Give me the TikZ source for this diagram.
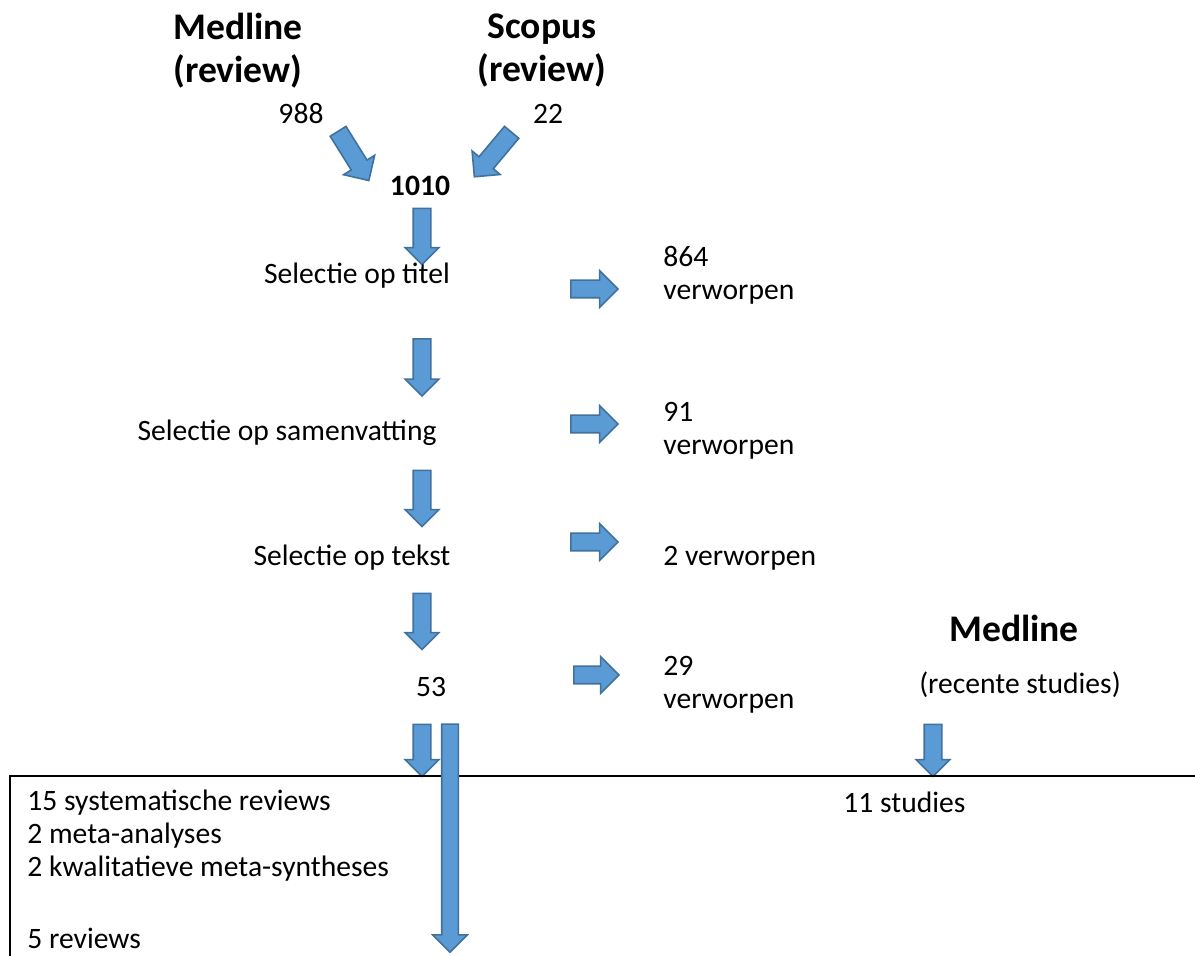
\documentclass[tikz,border=0pt]{standalone}
\usepackage{fontspec}
\setmainfont{Carlito}
\usepackage{tikz}
\usetikzlibrary{shapes.arrows, positioning}
\definecolor{pijlblauw}{HTML}{5B9BD5}
\definecolor{pijlrand}{HTML}{41719C}
\tikzset{
  pijl/.style={single arrow, fill=pijlblauw, draw=pijlrand, line width=0.8pt,
    inner xsep=0pt, inner ysep=4pt, single arrow head extend=4pt,
    single arrow head indent=0pt},
  zijpijl/.style={pijl, single arrow head extend=4.75pt, minimum height=23.5pt},
  tekst/.style={inner sep=0pt, font=\fontsize{14.8}{16.5}\selectfont},
  kop/.style={inner sep=0pt, align=center, font=\fontsize{18.8}{21.5}\selectfont\bfseries},
}

\begin{document}
\begin{tikzpicture}[x=0.5pt, y=-0.5pt]
  \useasboundingbox (0,0) rectangle (1195,956);
  % bronnen
  \node[kop] (medline) at (238,51) {Medline\\(review)};
  \node[kop] (scopus) at (542,51) {Scopus\\(review)};
  \node[tekst] (n988) at (301,114) {988};
  \node[tekst] (n22) at (548,114) {22};
  \node[pijl, minimum height=29pt, inner ysep=4.25pt, single arrow head extend=4.5pt, rotate=-58] (p1) at (351,152) {};
  \node[pijl, minimum height=29pt, inner ysep=4.25pt, single arrow head extend=4.5pt, rotate=-130] (p2) at (496,151) {};
  \node[tekst, font=\fontsize{14.8}{16.5}\selectfont\bfseries] (totaal) at (420,186) {1010};

  % selectiestappen
  \node[pijl, minimum height=28pt, rotate=-90] (v1) at (422,232) {};
  \node[tekst] (titel) at (357,276) {Selectie op titel};
  \node[zijpijl] (h1) at (590,289) {};
  \node[tekst, anchor=west, align=left] (weg1) at (663,275) {864\\verworpen};

  \node[pijl, minimum height=28.5pt, rotate=-90] (v2) at (422,363) {};
  \node[tekst] (samenv) at (287,433) {Selectie op samenvatting};
  \node[zijpijl] (h2) at (590,424) {};
  \node[tekst, anchor=west, align=left] (weg2) at (663,431) {91\\verworpen};

  \node[pijl, minimum height=28pt, rotate=-90] (v3) at (422,494) {};
  \node[tekst] (tekststap) at (352,558) {Selectie op tekst};
  \node[zijpijl] (h3) at (590,542) {};
  \node[tekst, anchor=west] (weg3) at (663,558) {2 verworpen};

  \node[pijl, minimum height=28pt, rotate=-90] (v4) at (422,617) {};
  \node[tekst] (n53) at (431,687) {53};
  \node[zijpijl, minimum height=22.5pt] (h4) at (592,675) {};
  \node[tekst, anchor=west, align=left] (weg4) at (663,685) {29\\verworpen};

  % recente studies
  \node[kop] (medline2) at (1014,628) {Medline};
  \node[tekst] (recent) at (1020,685) {(recente studies)};
  \node[pijl, minimum height=26pt, rotate=-90] (v5) at (933,746) {};
  \node[pijl, minimum height=26pt, rotate=-90] (v6) at (422,746) {};

  % resultaat
  \draw[line width=1pt] (1195,776) -- (10,776) -- (10,956);
  \node[pijl, minimum height=114pt, inner ysep=3.75pt, single arrow head extend=4.5pt, rotate=-90] (lang) at (450,834) {};
  \node[tekst, anchor=north west, align=left] (resultaat) at (27,790)
    {15 systematische reviews\\2 meta-analyses\\2 kwalitatieve meta-syntheses\\[19.5pt]5 reviews};
  \node[tekst, anchor=west] (studies) at (843,802) {11 studies};
\end{tikzpicture}
\end{document}
